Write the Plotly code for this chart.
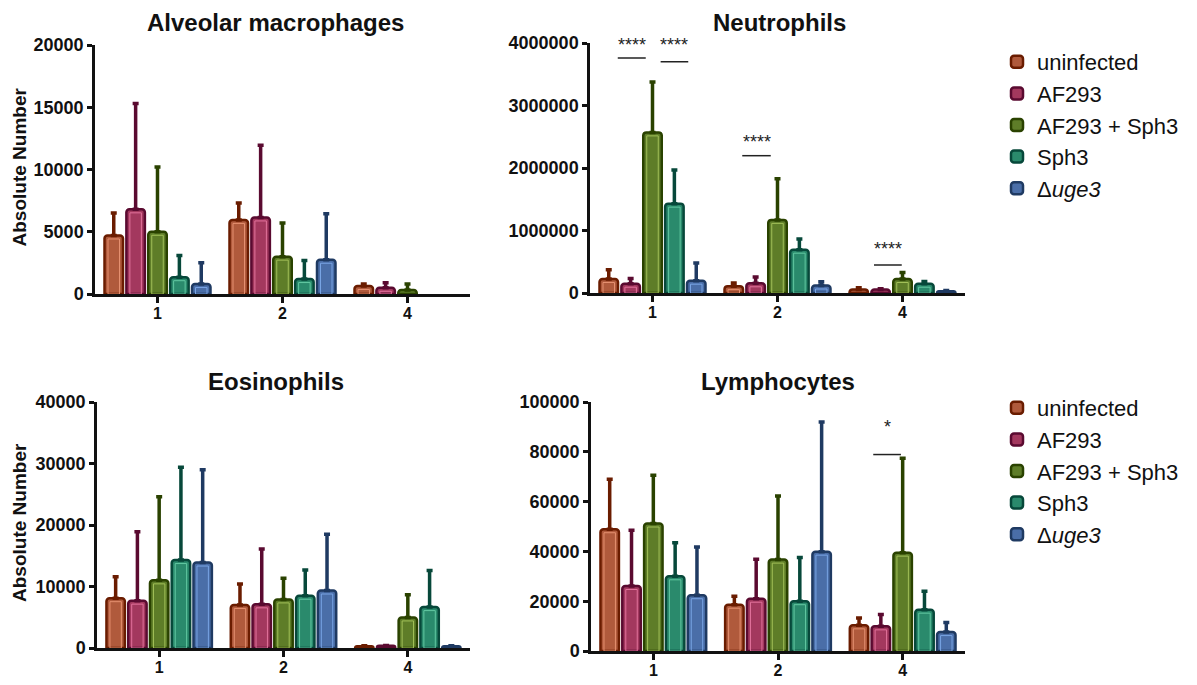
import plotly.graph_objects as go

# ---------------- data ----------------
days = ["1", "2", "4"]
groups = ["uninfected", "AF293", "AF293 + Sph3", "Sph3", "Δ<i>uge3</i>"]

# Alveolar macrophages (rows = groups, cols = days)
am_mean = [[4700, 5950, 640], [6800, 6150, 500], [5000, 3000, 320], [1350, 1200, None], [800, 2750, None]]
am_sem = [[1800, 1350, 160], [8500, 5800, 400], [5200, 2700, 480], [1750, 1500, None], [1700, 3700, None]]

# Neutrophils
ne_mean = [[224000, 110000, 58000], [149000, 155000, 55000], [2570000, 1170000, 224000],
           [1430000, 693000, 149000], [197000, 120000, 30000]]
ne_sem = [[149000, 50000, 27000], [85000, 101000, 12000], [806000, 660000, 106000],
          [540000, 171000, 37000], [283000, 60000, 10000]]

# Eosinophils
eo_mean = [[8100, 7000, 300], [7700, 7100, 350], [11000, 7900, 4970], [14300, 8500, 6650], [13900, 9350, 300]]
eo_sem = [[3500, 3400, 60], [11200, 9000, 60], [13600, 3450, 3680], [15100, 4200, 5950], [15100, 9150, 60]]

# Lymphocytes
ly_mean = [[48900, 18600, 10300], [26100, 21000, 9900], [51200, 36700, 39500], [30000, 20000, 16600], [22400, 39900, 7600]]
ly_sem = [[20100, 3400, 3000], [22400, 15800, 4800], [19400, 25500, 37900], [13500, 17600, 7400], [19400, 52100, 3800]]

# significance marks (x in category units, y in data units)
ne_sig_x0 = [-0.278, 0.065, 0.718, 1.772]
ne_sig_x1 = [-0.054, 0.286, 0.946, 1.994]
ne_sig_line_y = [3760000, 3700000, 2197000, 448000]
ne_sig_text_y = [3960000, 3960000, 2420000, 710000]
ne_sig_text = ["****", "****", "****", "****"]

ly_sig_x0 = [1.764]
ly_sig_x1 = [1.986]
ly_sig_line_y = [78900]
ly_sig_text_y = [90000]
ly_sig_text = ["*"]

# ---------------- style ----------------
PAGE_OFF = 0                      # body margin removed by post_script below
W, H = 1197, 685


def fx(px):
    return (px - PAGE_OFF) / W


def fy(py):
    return 1 - (py - PAGE_OFF) / H


fills = ["#b05a3c", "#a3385e", "#5e7d28", "#2a8a6c", "#4a6ea8"]
edges = ["#6a1c00", "#5a0a30", "#2a4200", "#07483a", "#1f3a62"]
lights = ["#e59070", "#e2729c", "#a2c058", "#62c8a2", "#78a4e4"]
FONT = "Liberation Sans, Arial, sans-serif"
SLOT = 0.175
BARW = 0.148

panels = [
    dict(title="Alveolar macrophages", mean=am_mean, sem=am_sem, ymax=20000, dtick=5000,
         px=(95, 470), py=(45, 294), ylabel=True, legend="legend", show=False, tx=275, ty=22,
         sig=None),
    dict(title="Neutrophils", mean=ne_mean, sem=ne_sem, ymax=4000000, dtick=1000000,
         px=(590, 965), py=(43, 293), ylabel=False, legend="legend", show=True, tx=779, ty=22,
         sig=(ne_sig_x0, ne_sig_x1, ne_sig_line_y, ne_sig_text_y, ne_sig_text)),
    dict(title="Eosinophils", mean=eo_mean, sem=eo_sem, ymax=40000, dtick=10000,
         px=(97, 470), py=(402, 648), ylabel=True, legend="legend2", show=False, tx=276, ty=381,
         sig=None),
    dict(title="Lymphocytes", mean=ly_mean, sem=ly_sem, ymax=100000, dtick=20000,
         px=(591, 965), py=(402, 651), ylabel=False, legend="legend2", show=True, tx=778, ty=381,
         sig=(ly_sig_x0, ly_sig_x1, ly_sig_line_y, ly_sig_text_y, ly_sig_text)),
]

fig = go.Figure()
layout = dict(
    width=W, height=H, autosize=False,
    margin=dict(l=0, r=0, t=0, b=0, autoexpand=False),
    paper_bgcolor="white", plot_bgcolor="white",
    barmode="overlay",
    showlegend=True,
    font=dict(family=FONT, color="#111"),
)
annotations = []
shapes = []

for k, p in enumerate(panels):
    s = "" if k == 0 else str(k + 1)
    xa, ya = "x" + s, "y" + s
    ph = p["py"][1] - p["py"][0]
    upp = p["ymax"] / ph  # data units per pixel
    inset_y = 3.5 * upp
    inset_x = 3.5 / ((p["px"][1] - p["px"][0]) / 3.0)
    for i, g in enumerate(groups):
        mean = p["mean"][i]
        sem = p["sem"][i]
        off = (i - 2) * SLOT - BARW / 2
        fig.add_trace(go.Bar(
            x=days, y=mean, name=g, xaxis=xa, yaxis=ya, offset=off, width=BARW,
            marker=dict(color=fills[i], line=dict(color=edges[i], width=2.5), cornerradius=3),
            error_y=dict(type="data", array=sem, arrayminus=[0] * len(sem), symmetric=False,
                         color=edges[i], thickness=3.5, width=3),
            legend=p["legend"], showlegend=p["show"], legendgroup=g,
        ))
        inner = [(v - inset_y) if (v is not None and v - inset_y > 2.5 * upp) else None for v in mean]
        fig.add_trace(go.Bar(
            x=days, y=inner, xaxis=xa, yaxis=ya, offset=off + inset_x, width=BARW - 2 * inset_x,
            marker=dict(color="rgba(0,0,0,0)", line=dict(color=lights[i], width=1)),
            showlegend=False, hoverinfo="skip", legend=p["legend"],
        ))

    layout["xaxis" + s] = dict(
        domain=[fx(p["px"][0]), fx(p["px"][1])], anchor=ya, type="category",
        categoryorder="array", categoryarray=days, range=[-0.5, 2.5], automargin=False,
        showline=True, linecolor="#111", linewidth=2.5, ticks="outside", ticklen=6,
        tickwidth=2.5, tickcolor="#111", showgrid=False, zeroline=False, fixedrange=True,
        tickfont=dict(family=FONT, size=16, color="#111", weight="bold"),
    )
    layout["yaxis" + s] = dict(
        domain=[fy(p["py"][1]), fy(p["py"][0])], anchor=xa, range=[0, p["ymax"]],
        dtick=p["dtick"], tick0=0, tickformat="d", automargin=False,
        showline=True, linecolor="#111", linewidth=2.5, ticks="outside", ticklen=5,
        tickwidth=2.5, tickcolor="#111", showgrid=False, zeroline=False,
        tickfont=dict(family=FONT, size=18, color="#111", weight="bold"),
    )
    annotations.append(dict(
        text="<b>%s</b>" % p["title"], x=fx(p["tx"]), y=fy(p["ty"]), xref="paper", yref="paper",
        showarrow=False, xanchor="center", yanchor="middle",
        font=dict(family=FONT, size=24, color="#111"),
    ))
    if p["ylabel"]:
        cy = (p["py"][0] + p["py"][1]) / 2 - 2
        annotations.append(dict(
            text="<b>Absolute Number</b>", x=fx(19), y=fy(cy), xref="paper", yref="paper",
            showarrow=False, textangle=-90, xanchor="center", yanchor="middle",
            font=dict(family=FONT, size=19, color="#111"),
        ))
    if p["sig"] is not None:
        x0s, x1s, lys, tys, txts = p["sig"]
        for x0, x1, ly, ty, t in zip(x0s, x1s, lys, tys, txts):
            shapes.append(dict(type="line", xref=xa, yref=ya, x0=x0, x1=x1, y0=ly, y1=ly,
                               line=dict(color="#222", width=1.5)))
            annotations.append(dict(text=t, x=(x0 + x1) / 2, y=ty, xref=xa, yref=ya,
                                    showarrow=False, xanchor="center", yanchor="middle",
                                    font=dict(family=FONT, size=18, color="#222")))

layout["annotations"] = annotations
layout["shapes"] = shapes
legend_style = dict(xanchor="left", yanchor="top", bgcolor="rgba(0,0,0,0)",
                    font=dict(family=FONT, size=22, color="#111"), itemwidth=30,
                    tracegroupgap=0)
layout["legend"] = dict(x=fx(997), y=fy(41), **legend_style)
layout["legend2"] = dict(x=fx(997), y=fy(387), **legend_style)

fig.update_layout(**layout)
try:
    fig.update_xaxes(ticklabelstandoff=-3)
except Exception:
    pass

fig.write_html(
    "out.html",
    config={"displayModeBar": False},
    post_script="document.body.style.margin='0';document.body.style.overflow='hidden';",
)
